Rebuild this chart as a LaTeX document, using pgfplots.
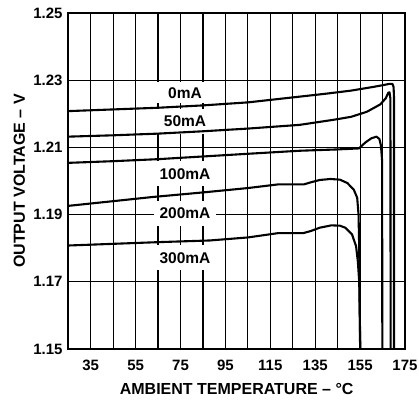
\documentclass[border=0pt]{standalone}
\usepackage{fontspec}
\setmainfont{Liberation Sans}
\usepackage{pgfplots}
\pgfplotsset{compat=1.18}

\begin{document}
\begin{tikzpicture}
\begin{axis}[
    name=ax,
    scale only axis,
    width=336.7bp, height=336bp,
    xmin=25, xmax=175, ymin=1.15, ymax=1.25,
    xtick={35,55,75,95,115,135,155,175},
    xticklabels={35,55,75,95,115,135,155,175},
    minor xtick={45,65,85,105,125,145,165},
    ytick={1.15,1.17,1.19,1.21,1.23,1.25},
    yticklabels={1.15,1.17,1.19,1.21,1.23,1.25},
    grid=both,
    grid style={black, line width=1.2bp},
    minor grid style={black, line width=1.2bp},
    axis line style={line width=2.2bp},
    tick style={draw=none},
    ticklabel style={font=\bfseries\fontsize{15bp}{18bp}\selectfont, inner sep=0pt},
    yticklabel style={anchor=east, xshift=-5.6bp},
    xticklabel style={anchor=north, yshift=-11bp},
    label style={font=\bfseries\fontsize{16bp}{19bp}\selectfont, inner sep=0pt},
    xlabel={AMBIENT TEMPERATURE – °C},
    ylabel={OUTPUT VOLTAGE – V},
    xlabel style={at={(axis description cs:0.5,-0.1348)}, anchor=base},
    ylabel style={at={(axis description cs:-0.1286,0.5)}, anchor=base},
    curve/.style={black, line width=2.1bp, line join=round, mark=none},
  ]
  % labels first, so the curves lie over their white boxes
  \begin{scope}[every node/.style={fill=white, minimum width=62bp, inner xsep=4bp, inner ysep=7bp,
      font=\bfseries\fontsize{15.5bp}{18bp}\selectfont}]
    \node[inner ysep=5bp] at (axis cs:77,1.2262) {0mA};
    \node at (axis cs:77,1.2177) {50mA};
    \node at (axis cs:77,1.2021) {100mA};
    \node at (axis cs:77,1.1904) {200mA};
    \node at (axis cs:77,1.1771) {300mA};
  \end{scope}

  % 0mA
  \addplot[curve] coordinates {(25,1.2208) (45,1.2213) (65,1.2218) (85,1.2225) (105,1.2234)
    (128,1.2251) (140,1.2260) (151,1.2269) (160,1.2279) (165,1.2285) (168,1.2289)
    (169.4,1.2289) (169.9,1.2280) (170.1,1.2250) (170.1,1.15)};
  % 50mA
  \addplot[curve] coordinates {(25,1.2132) (45,1.2136) (65,1.2141) (85,1.2148) (105,1.2156)
    (128,1.2167) (143,1.2182) (151,1.2191) (158,1.2206) (164,1.2228) (166.4,1.2246)
    (167.6,1.2263) (168.1,1.2264) (168.5,1.2245) (168.6,1.15)};
  % 100mA
  \addplot[curve] coordinates {(25,1.2054) (45,1.2059) (65,1.2065) (85,1.2073) (105,1.2081)
    (128,1.2090) (145,1.2094) (154.5,1.2097) (157.4,1.2115) (160,1.2127) (162.3,1.2132)
    (163.6,1.2125) (164.3,1.2105) (164.8,1.2060) (164.9,1.15)};
  % 200mA
  \addplot[curve] coordinates {(25,1.1926) (45,1.1940) (62,1.1952) (85,1.1966) (105,1.1979)
    (118.6,1.1990) (130,1.1990) (133,1.1996) (137,1.2003) (141.8,1.2006) (146,1.2004)
    (149.3,1.1994) (152.2,1.1974) (153.7,1.1950) (154.3,1.1900) (154.6,1.1800) (155.0,1.15)};
  % 300mA
  \addplot[curve] coordinates {(25,1.1808) (45,1.1813) (65,1.1818) (88,1.1823) (105,1.1832)
    (118.6,1.1845) (129.7,1.1845) (133,1.1851) (137,1.1861) (142.2,1.1868) (146,1.1867)
    (148.4,1.1861) (151.4,1.1841) (153.2,1.1806) (154,1.1760) (154.6,1.1700) (155.1,1.15)};
\end{axis}
\pgfresetboundingbox
\useasboundingbox ([xshift=-68.3bp,yshift=-53bp]ax.south west) rectangle ([xshift=14bp,yshift=13bp]ax.north east);
\end{tikzpicture}
\end{document}
